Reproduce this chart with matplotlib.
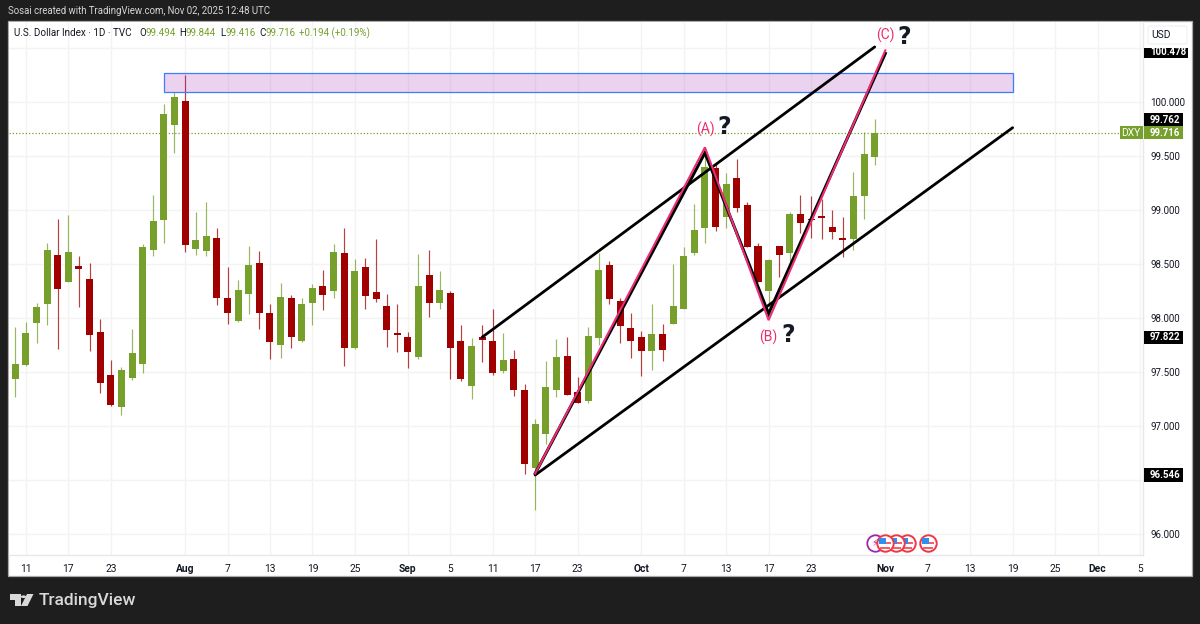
import matplotlib
matplotlib.use("Agg")
import matplotlib.pyplot as plt
from matplotlib.patches import Rectangle, Polygon, FancyBboxPatch

plt.rcParams['font.family'] = ['Roboto', 'DejaVu Sans']

# ---- data -------------------------------------------------------------
opens = [97.55, 97.438, 97.562, 97.954, 98.130, 98.580, 98.336, 98.485, 98.358, 97.867,
         97.472, 97.173, 97.444, 97.571, 98.632, 98.910, 99.790, 100.009, 98.638, 98.620,
         98.741, 98.188, 97.975, 98.225, 98.506, 98.043, 97.750, 98.182, 97.784, 98.139,
         98.293, 98.250, 98.602, 97.719, 98.469, 98.238, 98.114, 97.864, 97.827, 97.642,
         98.395, 98.139, 98.231, 97.790, 97.373, 97.827, 97.784, 97.509, 97.620, 97.333,
         96.611, 96.923, 97.333, 97.651, 97.318, 97.232, 97.815, 98.491, 98.157, 97.907,
         97.821, 97.698, 97.849, 97.948, 98.087, 98.599, 98.833, 99.389, 98.935, 99.293,
         99.049, 98.667, 98.250, 98.667, 98.602, 98.963, 98.917, 98.944, 98.843, 98.741,
         98.728, 99.130, 99.494]
highs = [97.60, 97.92, 97.96, 98.136, 98.697, 98.914, 98.951, 98.574, 98.506, 97.991,
         97.608, 97.543, 97.901, 98.685, 99.139, 99.981, 100.095, 100.250, 98.978, 99.074,
         98.836, 98.469, 98.352, 98.667, 98.617, 98.130, 98.321, 98.213, 98.182, 98.315,
         98.441, 98.685, 98.830, 98.543, 98.559, 98.728, 98.225, 98.130, 97.870, 98.593,
         98.630, 98.438, 98.253, 97.938, 97.812, 97.932, 98.083, 97.864, 97.704, 97.389,
         97.068, 97.602, 97.806, 97.821, 97.454, 97.917, 98.599, 98.528, 98.182, 98.043,
         97.880, 98.130, 97.945, 98.500, 98.661, 99.056, 99.50, 99.423, 99.346, 99.469,
         99.071, 98.698, 98.546, 98.670, 98.978, 99.139, 99.130, 99.099, 99.000, 98.938,
         99.352, 99.722, 99.844]
lows = [97.42, 97.272, 97.558, 97.765, 97.932, 97.710, 98.336, 98.099, 97.698, 97.302,
        97.188, 97.105, 97.426, 97.488, 98.577, 98.697, 99.524, 98.608, 98.586, 98.577,
        98.120, 97.944, 97.960, 98.034, 97.895, 97.620, 97.633, 97.725, 97.781, 97.938,
        98.077, 98.182, 97.556, 97.716, 98.086, 98.151, 97.731, 97.688, 97.534, 97.623,
        98.012, 98.080, 97.432, 97.420, 97.253, 97.593, 97.475, 97.491, 97.275, 96.553,
        96.222, 96.833, 97.272, 97.290, 97.210, 97.216, 97.750, 98.133, 97.772, 97.633,
        97.460, 97.519, 97.602, 97.945, 98.087, 98.586, 98.698, 98.809, 98.833, 98.985,
        98.654, 98.330, 98.105, 98.383, 98.506, 98.787, 98.738, 98.728, 98.728, 98.568,
        98.630, 98.914, 99.416]
closes = [97.46, 97.574, 97.864, 98.102, 98.630, 98.269, 98.611, 98.454, 97.843, 97.395,
          97.194, 97.518, 97.673, 98.660, 98.898, 99.885, 100.046, 98.676, 98.725, 98.756,
          98.182, 98.043, 98.262, 98.491, 98.043, 97.775, 98.194, 97.827, 98.130, 98.278,
          98.210, 98.614, 97.725, 98.432, 98.204, 98.173, 97.889, 97.846, 97.688, 98.296,
          98.139, 98.262, 97.725, 97.435, 97.738, 97.799, 97.488, 97.611, 97.333, 96.648,
          97.019, 97.364, 97.642, 97.290, 97.210, 97.834, 98.445, 98.176, 97.926, 97.787,
          97.698, 97.855, 97.704, 98.108, 98.571, 98.815, 99.398, 98.846, 99.241, 99.022,
          98.654, 98.330, 98.537, 98.580, 98.963, 98.877, 98.904, 98.929, 98.793, 98.722,
          99.130, 99.515, 99.716]

tick_bars = [2, 6, 10, 17, 21, 25, 29, 33, 38, 42, 46, 50, 54, 60, 64, 68, 72, 76, 83, 87, 91, 95, 99, 103, 107]
tick_text = ['11', '17', '23', 'Aug', '7', '13', '19', '25', 'Sep', '5', '11', '17', '23', 'Oct',
             '7', '13', '17', '23', 'Nov', '7', '13', '19', '25', 'Dec', '5']
month_text = ['Aug', 'Sep', 'Oct', 'Nov', 'Dec']
price_ticks = [96.0, 96.5, 97.0, 97.5, 98.0, 98.5, 99.0, 99.5, 100.0, 100.5]
price_text = ['96.000', '', '97.000', '97.500', '98.000', '98.500', '99.000', '99.500', '100.000', '']

zone_bars = [15, 95]
zone_prices = [100.09, 100.27]
upper_bars, upper_prices = [45, 82], [97.822, 100.51]
lower_bars, lower_prices = [50, 95], [96.546, 99.762]
wave_bars = [50, 66, 72, 83]
wave_black = [96.56, 99.53, 98.04, 100.45]
wave_pink = [96.56, 99.58, 97.98, 100.478]
last_price = 99.716
event_bars = [85, 84, 83, 87]
event_power_bar = 82
event_price = 95.915
price_tags = [(100.478, 100.46, 100.5, 100.405, 1188, '100.478'),
              (99.762, 99.835, 99.896, 99.774, 1183, '99.762'),
              (97.822, 97.822, 97.883, 97.761, 1183, '97.822'),
              (96.546, 96.546, 96.607, 96.485, 1183, '96.546')]

GREEN = '#76a02b'
RED = '#a00000'
PINK = '#ec2c74'
DARK = '#1e1e1e'
TEXT = '#131722'
GRID = '#f3f3f4'

# ---- layout -----------------------------------------------------------
W, H = 1200, 624
L, R, T, B = 8.5, 1143.3, 22.0, 554.5
fig = plt.figure(figsize=(12, 6.24), dpi=100, facecolor=DARK)

def fx(x):
    return x / W

def fy(y):
    return 1 - y / H

# white pane incl. scales
fig.add_artist(Rectangle((fx(L - 1), fy(575.5)), (1192 - L + 1) / W, (575.5 - T + 1) / H,
                         transform=fig.transFigure, fc='white', ec='#a9a9a9', lw=0.9, zorder=-1))
ax = fig.add_axes([fx(L), fy(B), (R - L) / W, (B - T) / H], facecolor='white')
ax.set_xlim((L - 4.69) / 10.61, (R - 4.69) / 10.61)
ax.set_ylim(100 - (B - 102) / 108, 100 + (102 - T) / 108)
ax.set_axisbelow(True)
ax.grid(True, color=GRID, lw=1)
for s in ['top', 'left']:
    ax.spines[s].set_visible(False)
for s in ['right', 'bottom']:
    ax.spines[s].set_color('#e6e7eb')
    ax.spines[s].set_linewidth(1)
ax.yaxis.tick_right()
ax.set_yticks(price_ticks, price_text)
ax.set_xticks(tick_bars, tick_text)
ax.tick_params(axis='y', length=0, pad=5, labelsize=7.0, labelcolor=TEXT)
ax.tick_params(axis='x', length=0, pad=6.5, labelsize=7.4, labelcolor=TEXT)
for lab in ax.get_xticklabels():
    if lab.get_text() in month_text:
        lab.set_fontweight('bold')

# ---- candles ----------------------------------------------------------
for i, (o, h, l, c) in enumerate(zip(opens, highs, lows, closes)):
    col = GREEN if c >= o else RED
    ax.plot([i, i], [l, h], color=col, lw=0.85, alpha=0.75, zorder=3, solid_capstyle='butt')
    ax.bar(i, abs(c - o), bottom=min(o, c), width=0.66, color=col, lw=0, zorder=3.1)

# ---- drawings ---------------------------------------------------------
ax.axhline(last_price, xmax=(1120 - L) / (R - L), color=GREEN, lw=0.9, ls=(0, (1, 1.6)), zorder=2.8)
ax.add_patch(Rectangle((zone_bars[0], zone_prices[0]), zone_bars[1] - zone_bars[0],
                       zone_prices[1] - zone_prices[0], fc=(0.61, 0.15, 0.69, 0.2),
                       ec='#3d7bff', lw=0.9, zorder=3.5))
for xs, ys in [(upper_bars, upper_prices), (lower_bars, lower_prices)]:
    ax.plot(xs, ys, color='black', lw=2.0, zorder=4, solid_capstyle='round')
ax.plot(wave_bars, wave_black, color='black', lw=2.2, zorder=4.1, solid_joinstyle='miter')
ax.plot(wave_bars, wave_pink, color=PINK, lw=1.5, zorder=4.2, solid_joinstyle='miter')

def label(x, y, s, q_x, q_y):
    fig.text(fx(x), fy(y), s, color=PINK, fontsize=10, ha='center', va='center', zorder=6)
    fig.text(fx(q_x), fy(q_y), '?', color='#161a25', fontsize=17, fontweight='bold',
             family=['DejaVu Sans'], ha='center', va='center', zorder=6)

label(705, 129.5, '(A)', 724, 127)
label(768, 337.5, '(B)', 788, 335)
label(885, 35.5, '(C)', 904, 37)

# ---- event icons ------------------------------------------------------
ax.scatter([event_power_bar], [event_price], s=140, fc='white', ec='#9c27b0', lw=1.3, zorder=5)
ax.text(event_power_bar - 0.05, event_price, '\u26a1', color='#9c27b0', fontsize=7,
        ha='center', va='center', zorder=5.05, family=['DejaVu Sans'])
px, py = 1 / 10.61, 1 / 108
for n, b in enumerate(event_bars):
    z = 5.1 + n * 0.1
    ax.scatter([b], [event_price], s=140, fc='white', ec='#f23645', lw=1.4, zorder=z)
    ax.add_patch(Rectangle((b - 6 * px, event_price - 0.5 * py), 12 * px, 1.9 * py, fc='#f2606c', lw=0, zorder=z + .01))
    ax.add_patch(Rectangle((b - 5 * px, event_price - 5.5 * py), 10 * px, 1.5 * py, fc='#f2606c', lw=0, zorder=z + .01))
    ax.add_patch(Rectangle((b - 6 * px, event_price - 0.5 * py), 7 * px, 6 * py, fc='#2f8ff0', lw=0, zorder=z + .02))

# ---- price scale tags -------------------------------------------------
ytr = ax.get_yaxis_transform()
span = R - L
def xfrac(x):
    return (x - L) / span

for value, shown, top, bottom, right, txt in price_tags:
    ax.add_patch(Rectangle((1.0002, bottom), xfrac(right) - 1.0002, top - bottom,
                           transform=ytr, fc='black', lw=0, clip_on=False, zorder=7))
    ax.text(xfrac(1150), shown, txt, transform=ytr, color='white', fontsize=7.0, fontweight='bold',
            ha='left', va='center', clip_on=False, zorder=8)
ax.add_patch(Rectangle((1.0002, last_price - 6.6 * py), xfrac(1183) - 1.0002, 13.2 * py, transform=ytr,
                       fc=GREEN, lw=0, clip_on=False, zorder=7))
ax.text(xfrac(1150), last_price, '%.3f' % last_price, transform=ytr, color='white', fontsize=7.0,
        fontweight='bold', ha='left', va='center', clip_on=False, zorder=8)
ax.add_patch(Rectangle((xfrac(1119.5), last_price - 6.6 * py), 1 - xfrac(1119.5), 13.2 * py, transform=ytr,
                       fc=GREEN, lw=0, clip_on=False, zorder=7))
ax.text(xfrac(1131), last_price, 'DXY', transform=ytr, color='white', fontsize=7.4,
        ha='center', va='center', clip_on=False, zorder=8)
fig.add_artist(FancyBboxPatch((fx(1148), fy(44)), 39 / W, 18 / H, boxstyle='round,pad=0,rounding_size=0.003',
                              transform=fig.transFigure, fc='white', ec='#f0f1f3', lw=0.9))
fig.text(fx(1161), fy(35), 'USD', color=TEXT, fontsize=7.4, ha='center', va='center')

# ---- header / legend --------------------------------------------------
fig.text(fx(8), fy(11.5), 'Sosai created with TradingView.com, Nov 02, 2025 12:48 UTC',
         color='#d4d6db', fontsize=6.9, ha='left', va='center')
fig.text(fx(14), fy(33), 'U.S. Dollar Index \u00b7 1D \u00b7 TVC', color=TEXT, fontsize=7.1, ha='left', va='center')
for x, k, v in [(139, 'O', '99.494'), (179, 'H', '99.844'), (220, 'L', '99.416'), (259, 'C', '99.716')]:
    fig.text(fx(x), fy(33), k, color=TEXT, fontsize=7.0, ha='left', va='center')
    fig.text(fx(x + {'O': 7, 'H': 7, 'L': 5.5, 'C': 6.5}[k]), fy(33), v, color=GREEN, fontsize=7.0, ha='left', va='center')
fig.text(fx(299), fy(33), '+0.194 (+0.19%)', color=GREEN, fontsize=7.0, ha='left', va='center')

# ---- logo -------------------------------------------------------------
logo = '#d9d9d9'
tf = fig.transFigure
def poly(pts):
    fig.add_artist(Polygon([(fx(a), fy(b)) for a, b in pts], closed=True, transform=tf, fc=logo, lw=0))

poly([(9.5, 594), (20.5, 594), (20.5, 606), (15, 606), (15, 599.5), (9.5, 599.5)])
poly([(27, 594), (33.5, 594), (27.5, 606), (21, 606)])
fig.add_artist(plt.Circle((fx(23.5), fy(596.7)), 2.6 / W, transform=tf, fc=logo, lw=0))
fig.text(fx(38.5), fy(600.5), 'TradingView', color=logo, fontsize=12.5, fontweight='medium', ha='left', va='center')

fig.savefig('out.png', dpi=100, facecolor=DARK)
